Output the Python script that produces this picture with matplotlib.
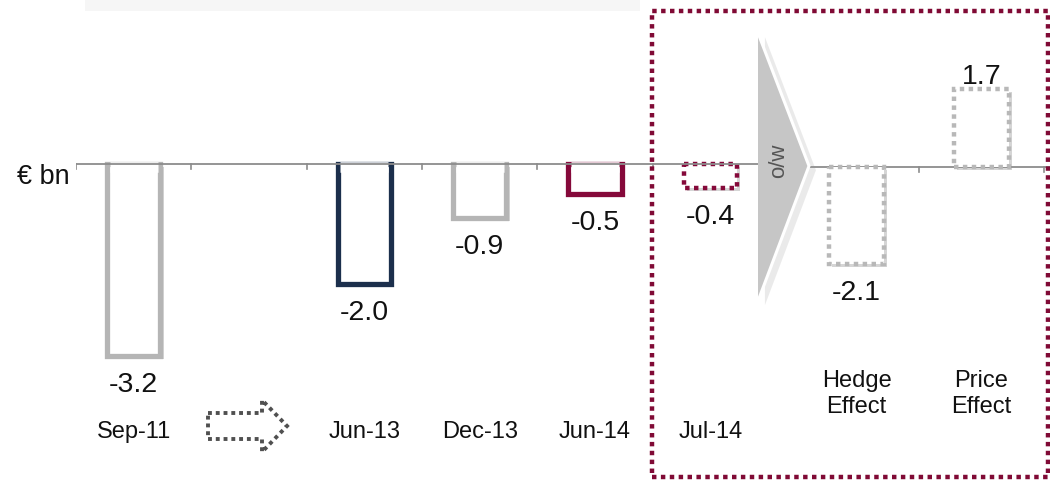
import matplotlib
matplotlib.use("Agg")
import matplotlib.pyplot as plt
import matplotlib.patheffects as pe
from matplotlib.patches import Polygon, Rectangle
from matplotlib.lines import Line2D
from matplotlib.transforms import blended_transform_factory, ScaledTranslation

plt.rcParams['font.family'] = ['Liberation Sans', 'DejaVu Sans']

# === Data ===
left_labels = ["Sep-11", "", "Jun-13", "Dec-13", "Jun-14", "Jul-14"]
left_values = [-3.2, None, -2.0, -0.9, -0.5, -0.4]
left_edges = ["#b5b5b5", None, "#1c2f4c", "#b5b5b5", "#85093a", "#85093a"]
left_styles = ["solid", None, "solid", "solid", "solid", "dotted"]

right_labels = ["Hedge\nEffect", "Price\nEffect"]
right_values = [-2.1, 1.7]

W, H = 1050, 481
fig = plt.figure(figsize=(W / 100, H / 100), dpi=100)
fig.patch.set_facecolor("white")


def fx(x):
    return x / W


def fy(y):
    return 1 - y / H


def px(x, y):
    return (fx(x), fy(y))


shadow = [pe.SimplePatchShadow(offset=(2.5, -2.5), shadow_rgbFace="#888888", alpha=0.35), pe.Normal()]
dots = (0, (1, 1))

# faint band at top
fig.patches.append(Rectangle(px(85, 12), fx(640) - fx(85), fy(0) - fy(12),
                             transform=fig.transFigure, facecolor="#f6f6f6",
                             edgecolor="none", zorder=0))

# --- left chart ---
top_px, bot_px = 40, 400
axL = fig.add_axes([fx(76), fy(bot_px), fx(768) - fx(76), (bot_px - top_px) / H])
scaleL, zeroL = 60.0, 165
axL.set_ylim(-(bot_px - zeroL) / scaleL, (zeroL - top_px) / scaleL)
axL.set_xlim(-0.5, len(left_labels) - 0.5)
axL.axis("off")
axL.axhline(0, color="#8c8c8c", lw=1.3, zorder=5)
for b in range(len(left_labels) + 1):
    axL.plot([b - 0.5, b - 0.5], [0, -5 / scaleL], color="#8c8c8c", lw=1.2, zorder=5)

lab_tf = blended_transform_factory(axL.transData, fig.transFigure)
bw = 0.46
for i, (lab, v) in enumerate(zip(left_labels, left_values)):
    if v is None:
        continue
    dotted = left_styles[i] == "dotted"
    ls = dots if dotted else "solid"
    lw = 3.2 if dotted else 3.8
    bars = axL.bar(i, v, width=bw, facecolor="white", edgecolor=left_edges[i],
                   linewidth=lw, linestyle=ls, zorder=3)
    bars[0].set_path_effects(shadow)
    if not dotted:
        # open top: hide the top edge under the axis line
        inner = bw / 2 - (lw * 100 / 72) / 2 / 115.5
        off = ScaledTranslation(0, -lw / 2 / 72, fig.dpi_scale_trans)
        axL.plot([i - inner, i + inner], [0, 0], color="white", lw=lw * 2,
                 solid_capstyle="butt", transform=axL.transData + off, zorder=4)
    axL.annotate(f"{v:.1f}", (i, v), xytext=(0, -11), textcoords="offset points",
                 ha="center", va="top", fontsize=20.5, color="#111111")
    axL.text(i, fy(432), lab, transform=lab_tf, ha="center", va="center",
             fontsize=17, color="#111111")

# --- right chart ---
axR = fig.add_axes([fx(794), fy(bot_px), fx(1050) - fx(794), (bot_px - top_px) / H])
scaleR, zeroR = 46.0, 168
axR.set_ylim(-(bot_px - zeroR) / scaleR, (zeroR - top_px) / scaleR)
axR.set_xlim(-0.5, -0.5 + 256 / 125)
axR.axis("off")
axR.axhline(0, color="#8c8c8c", lw=1.3, zorder=1)
for b in [0.5, 1.5]:
    axR.plot([b, b], [0, -5 / scaleR], color="#8c8c8c", lw=1.2, zorder=1)

lab_tfR = blended_transform_factory(axR.transData, fig.transFigure)
for i, (lab, v) in enumerate(zip(right_labels, right_values)):
    bars = axR.bar(i, v, width=0.44, facecolor="white", edgecolor="#b8b8b8",
                   linewidth=3.2, linestyle=dots, zorder=3)
    bars[0].set_path_effects(shadow)
    off = -11 if v < 0 else 0
    axR.annotate(f"{v:.1f}", (i, v), xytext=(0, off), textcoords="offset points",
                 ha="center", va="top" if v < 0 else "bottom", fontsize=20.5, color="#111111")
    axR.text(i, fy(394), lab, transform=lab_tfR, ha="center", va="center",
             fontsize=17, color="#111111", linespacing=1.2)

# --- decorations ---
fig.text(fx(70), fy(177), "€ bn", ha="right", va="center", fontsize=19.5, color="#111111")

# o/w chevron
ow = Polygon([px(758, 34), px(809, 167), px(758, 302)], closed=True, transform=fig.transFigure,
             facecolor="#c6c6c6", edgecolor="none", zorder=6)
ow.set_path_effects([pe.SimplePatchShadow(offset=(5, -3), shadow_rgbFace="#999999", alpha=0.2),
                     pe.Normal()])
fig.patches.append(ow)
ow_edge = Line2D([fx(758), fx(809), fx(758)], [fy(34), fy(167), fy(302)],
                 transform=fig.transFigure, color="white", lw=2.2, zorder=7)
fig.lines.append(ow_edge)
fig.text(fx(779), fy(161), "o/w", rotation=90, ha="center", va="center",
         fontsize=16, color="#555555", zorder=8)

# dotted block arrow between Sep-11 and Jun-13
arr = Polygon([px(208, 414), px(262, 414), px(262, 401), px(287, 427), px(262, 453),
               px(262, 440), px(208, 440)], closed=True, transform=fig.transFigure,
              facecolor="white", edgecolor="#505050", linewidth=2.8, linestyle=dots, zorder=5)
fig.patches.append(arr)

# outer dotted frame around Jul-14 and effects
frame = Rectangle(px(652, 478), fx(1048) - fx(652), fy(12) - fy(478), transform=fig.transFigure,
                  facecolor="none", edgecolor="#800a35", linewidth=3.2, linestyle=dots, zorder=9)
fig.patches.append(frame)

fig.savefig("out.png", dpi=100, facecolor="white")
